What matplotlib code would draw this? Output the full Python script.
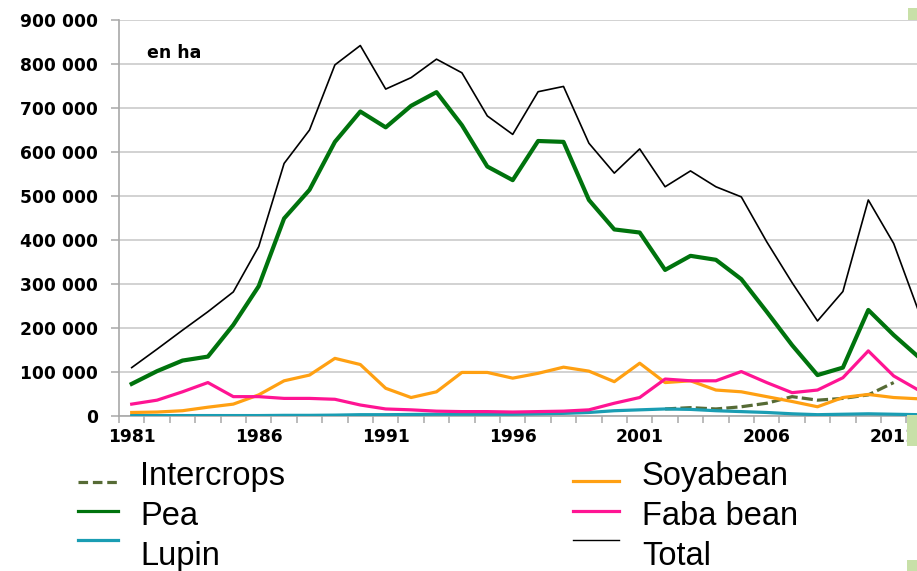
import numpy as np
import matplotlib
matplotlib.use("Agg")
import matplotlib.pyplot as plt
from matplotlib.lines import Line2D
from matplotlib.patches import Rectangle
from matplotlib.ticker import FuncFormatter, MultipleLocator

years = list(range(1981, 2013))

total = [110000, 152000, 195000, 237000, 282000, 385000, 574000, 650000, 798000, 842000,
         743000, 769000, 811000, 780000, 682000, 640000, 737000, 749000, 620000, 552000,
         607000, 521000, 557000, 521000, 498000, 396000, 303000, 216000, 283000, 491000,
         392000, 235000]
pea = [73000, 102000, 126000, 135000, 207000, 295000, 449000, 514000, 623000, 692000,
       656000, 705000, 736000, 661000, 567000, 536000, 625000, 623000, 491000, 424000,
       417000, 332000, 364000, 355000, 311000, 237000, 161000, 93000, 110000, 241000,
       184000, 133000]
soyabean = [8000, 9000, 12000, 20000, 27000, 48000, 80000, 93000, 131000, 117000,
            63000, 42000, 55000, 99000, 99000, 86000, 97000, 111000, 102000, 78000,
            120000, 76000, 80000, 59000, 55000, 44000, 33000, 21000, 42000, 49000,
            42000, 39000]
faba = [27000, 36000, 55000, 76000, 44000, 44000, 40000, 40000, 38000, 25000,
        16000, 14000, 11000, 10000, 10000, 9000, 10000, 11000, 14000, 29000,
        42000, 84000, 80000, 80000, 101000, 76000, 53000, 59000, 87000, 148000,
        91000, 58000]
lupin = [1000, 1000, 1000, 1000, 1000, 1000, 1500, 1500, 2000, 3000,
         3000, 3500, 4000, 4000, 4000, 4000, 5000, 6000, 8000, 12000,
         14000, 16000, 15000, 12000, 10000, 8000, 5000, 3000, 4000, 5000,
         4000, 3000]
intercrops = [np.nan] * 21 + [16000, 19000, 16000, 21000, 29000, 44000, 36000, 40000, 48000, 76000, np.nan]

ytick_values = list(range(0, 900001, 100000))
xtick_years = [1981, 1986, 1991, 1996, 2001, 2006, 2011]

W, H = 917, 571
fig = plt.figure(figsize=(W / 100, H / 100), dpi=100)
fig.patch.set_facecolor("white")

left_px, right_px, top_px, bottom_px = 119, 917, 20, 416
ax = fig.add_axes([left_px / W, 1 - bottom_px / H, (right_px - left_px) / W, (bottom_px - top_px) / H])

x = np.arange(len(years))
c_inter = "#566b35"
c_pea = "#00730d"
c_lupin = "#1a9db3"
c_soy = "#ffa012"
c_faba = "#ff1493"

ax.plot(x, total, color="black", lw=1.2, zorder=6)
ax.plot(x, pea, color=c_pea, lw=3.0, zorder=5)
ax.plot(x, soyabean, color=c_soy, lw=2.3, zorder=4)
ax.plot(x, faba, color=c_faba, lw=2.3, zorder=4)
ax.plot(x, intercrops, color=c_inter, lw=2.3, dashes=(3.5, 1.3), zorder=3)
ax.plot(x, lupin, color=c_lupin, lw=2.3, zorder=3)

ax.yaxis.set_major_locator(MultipleLocator(100000))
ax.yaxis.set_major_formatter(FuncFormatter(lambda v, p: f"{int(v):,}".replace(",", " ")))
ax.grid(axis="y", color="#c6c6c6", lw=1.1)
ax.set_axisbelow(True)

ax.set_xticks([y - 1981 for y in xtick_years])
ax.set_xticklabels([str(y) for y in xtick_years])
ax.set_xticks(np.arange(-0.5, len(years), 1), minor=True)

ax.set_ylim(0, 900000)
ax.set_xlim(-0.5, (917 - 131.7) / 25.4)

for s in ["top", "right"]:
    ax.spines[s].set_visible(False)
for s in ["left", "bottom"]:
    ax.spines[s].set_color("#a8a8a8")
    ax.spines[s].set_linewidth(1.2)

ax.tick_params(axis="y", which="major", length=6, width=1.1, color="#a8a8a8", pad=9,
               labelsize=12.3)
ax.tick_params(axis="x", which="major", length=0, pad=8.5, labelsize=12.3)
ax.tick_params(axis="x", which="minor", length=5, width=1.1, color="#a8a8a8")
for lab in ax.get_yticklabels() + ax.get_xticklabels():
    lab.set_fontweight("bold")
    lab.set_family("DejaVu Sans")

fig.text(147 / W, 1 - 58 / H, "en ha", fontsize=12.5, fontweight="bold",
         family="DejaVu Sans", ha="left", va="baseline")

# legend drawn manually
def handle(x0, x1, y, color, lw, dashes=None):
    ln = Line2D([x0 / W, x1 / W], [1 - y / H, 1 - y / H], color=color, lw=lw,
                transform=fig.transFigure)
    if dashes:
        ln.set_dashes(dashes)
    fig.add_artist(ln)

handle(78, 118, 482, c_inter, 2.3, (3, 1.5))
handle(78, 118, 511, c_pea, 2.3)
handle(78, 118, 540, c_lupin, 2.3)
handle(573, 619, 481, c_soy, 2.3)
handle(573, 619, 511, c_faba, 2.3)
handle(573, 619, 540, "black", 1.0)

leg_font = dict(fontsize=23.5, family="Liberation Sans", ha="left", va="baseline")
fig.text(140 / W, 1 - 485 / H, "Intercrops", **leg_font)
fig.text(140 / W, 1 - 525 / H, "Pea", **leg_font)
fig.text(140 / W, 1 - 565 / H, "Lupin", **leg_font)
fig.text(642 / W, 1 - 485 / H, "Soyabean", **leg_font)
fig.text(642 / W, 1 - 525 / H, "Faba bean", **leg_font)
fig.text(642 / W, 1 - 565 / H, "Total", **leg_font)

# slide decorations (light green bars at the right edge)
for (x0, y0, x1, y1) in [(908, 8, 917, 20), (907, 415, 917, 446), (907, 560, 917, 571)]:
    fig.add_artist(Rectangle((x0 / W, 1 - y1 / H), (x1 - x0) / W, (y1 - y0) / H,
                             transform=fig.transFigure, color="#c8e0a8", lw=0, zorder=10))

fig.savefig("out.png", dpi=100)
